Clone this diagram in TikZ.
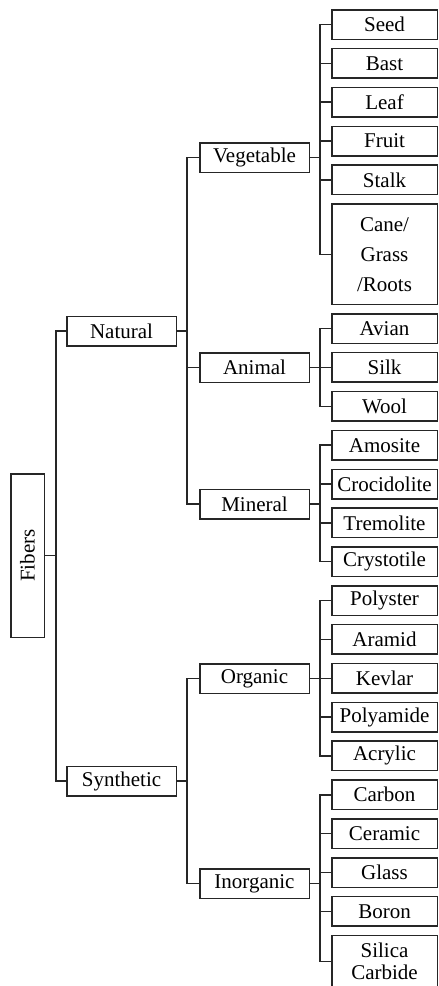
\documentclass[tikz,border=0pt]{standalone}
\usepackage{fontspec}
\setmainfont{Liberation Serif}
\usetikzlibrary{positioning}

\begin{document}
\begin{tikzpicture}[
        x=1pt, y=-1pt,
        node distance=7.85pt,
        box/.style={
            draw=black!85,
            rectangle,
            line width=1.5pt,
            inner sep=1pt,
            minimum height=29.5pt,
            align=center,
            font=\fontsize{21}{30}\selectfont
        },
        sub/.style={box, minimum width=105.5pt},
        group/.style={box, minimum width=109.5pt},
        link/.style={draw=black!85, line width=1.5pt}
    ]

        \useasboundingbox (0,0) rectangle (439,986);

        % root
        \node[box, minimum width=33.5pt, minimum height=163.5pt] (fibers) at (27.5,555.5) {\rotatebox{90}{Fibers}};

        \node[group] (natural) at (121.5,331) {Natural};
        \node[group] (synthetic) at (121.5,781) {Synthetic};

        \node[group] (veg) at (254.5,157.5) {Vegetable};
        \node[group] (animal) at (254.5,367.5) {Animal};
        \node[group] (mineral) at (254.5,504) {Mineral};
        \node[group] (organic) at (254.5,678.5) {Organic};
        \node[group] (inorganic) at (254.5,883.5) {Inorganic};

        % leaves, one column
        \node[sub] (seed) at (384.5,24.5) {Seed};
        \node[sub, below=of seed] (bast) {Bast};
        \node[sub, below=of bast] (leaf) {Leaf};
        \node[sub, below=of leaf] (fruit) {Fruit};
        \node[sub, below=of fruit] (stalk) {Stalk};
        \node[sub, below=of stalk, minimum height=100.5pt] (cane) {Cane/\\Grass\\/Roots};
        \node[sub, below=of cane] (avian) {Avian};
        \node[sub, below=of avian] (silk) {Silk};
        \node[sub, below=of silk] (wool) {Wool};
        \node[sub, below=of wool] (amosite) {Amosite};
        \node[sub, below=of amosite] (croc) {Crocidolite};
        \node[sub, below=of croc] (tremolite) {Tremolite};
        \node[sub, below=of tremolite] (crysto) {Crystotile};
        \node[sub, below=of crysto] (polyster) {Polyster};
        \node[sub, below=of polyster] (aramid) {Aramid};
        \node[sub, below=of aramid] (kevlar) {Kevlar};
        \node[sub, below=of kevlar] (polyamide) {Polyamide};
        \node[sub, below=of polyamide] (acrylic) {Acrylic};
        \node[sub, below=of acrylic] (carbon) {Carbon};
        \node[sub, below=of carbon] (ceramic) {Ceramic};
        \node[sub, below=of ceramic] (glass) {Glass};
        \node[sub, below=of glass] (boron) {Boron};
        \node[sub, below=of boron, minimum height=52.5pt,
              font=\fontsize{21}{22}\selectfont] (silica) {Silica\\Carbide};

        % connectors
        \draw[link] (natural.west) -- ++(-10,0) |- (fibers.east);
        \draw[link] (synthetic.west) -- ++(-10,0) |- (fibers.east);

        \draw[link] (veg.west) -- ++(-12,0) |- (natural.east);
        \draw[link] (animal.west) -- ++(-12,0) |- (natural.east);
        \draw[link] (mineral.west) -- ++(-12,0) |- (natural.east);
        \draw[link] (organic.west) -- ++(-12,0) |- (synthetic.east);
        \draw[link] (inorganic.west) -- ++(-12,0) |- (synthetic.east);

        \draw[link] (seed.west) -- ++(-11,0) |- (veg.east);
        \draw[link] (bast.west) -- ++(-11,0) |- (veg.east);
        \draw[link] (leaf.west) -- ++(-11,0) |- (veg.east);
        \draw[link] (fruit.west) -- ++(-11,0) |- (veg.east);
        \draw[link] (stalk.west) -- ++(-11,0) |- (veg.east);
        \draw[link] (cane.west) -- ++(-11,0) |- (veg.east);

        \draw[link] (avian.west) -- ++(-11,0) |- (animal.east);
        \draw[link] (silk.west) -- ++(-11,0) |- (animal.east);
        \draw[link] (wool.west) -- ++(-11,0) |- (animal.east);

        \draw[link] (amosite.west) -- ++(-11,0) |- (mineral.east);
        \draw[link] (croc.west) -- ++(-11,0) |- (mineral.east);
        \draw[link] (tremolite.west) -- ++(-11,0) |- (mineral.east);
        \draw[link] (crysto.west) -- ++(-11,0) |- (mineral.east);

        \draw[link] (polyster.west) -- ++(-11,0) |- (organic.east);
        \draw[link] (aramid.west) -- ++(-11,0) |- (organic.east);
        \draw[link] (kevlar.west) -- ++(-11,0) |- (organic.east);
        \draw[link] (polyamide.west) -- ++(-11,0) |- (organic.east);
        \draw[link] (acrylic.west) -- ++(-11,0) |- (organic.east);

        \draw[link] (carbon.west) -- ++(-11,0) |- (inorganic.east);
        \draw[link] (ceramic.west) -- ++(-11,0) |- (inorganic.east);
        \draw[link] (glass.west) -- ++(-11,0) |- (inorganic.east);
        \draw[link] (boron.west) -- ++(-11,0) |- (inorganic.east);
        \draw[link] (silica.west) -- ++(-11,0) |- (inorganic.east);

    \end{tikzpicture}
\end{document}
